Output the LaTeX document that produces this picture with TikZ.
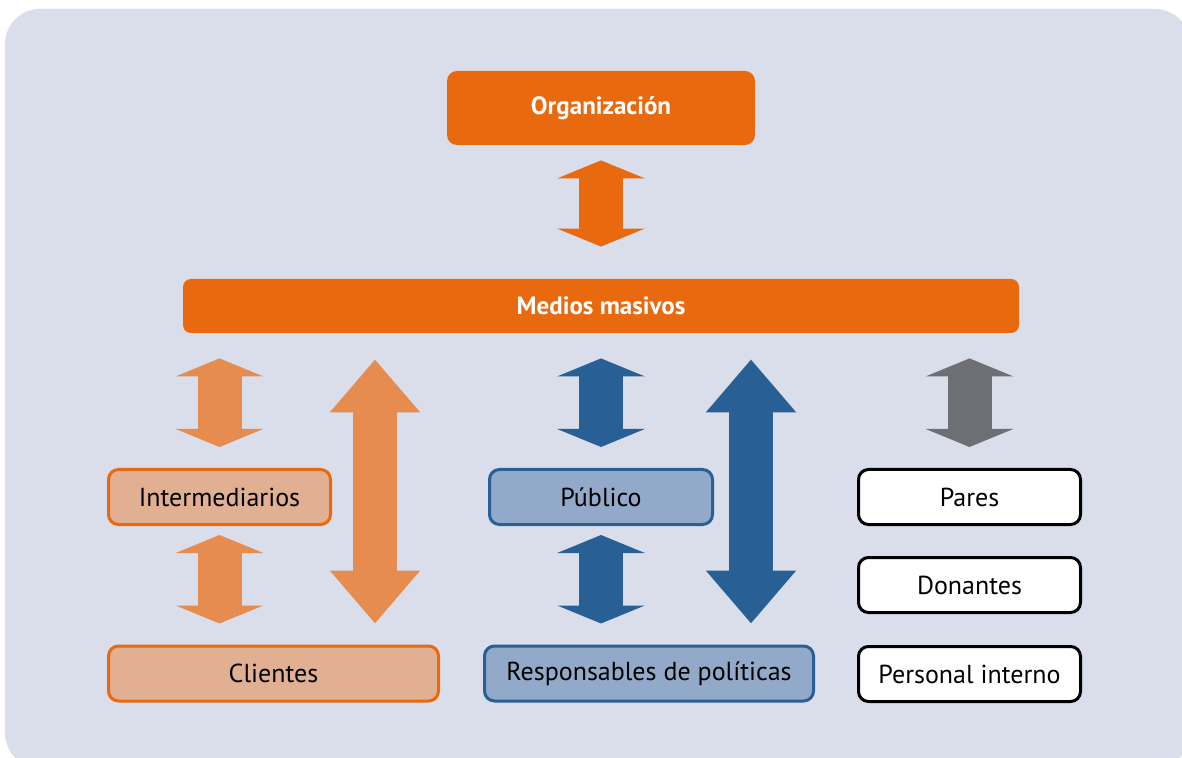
\documentclass[tikz,border=0pt]{standalone}
\usepackage{fontspec}
\setmainfont{PT Sans}
\usetikzlibrary{arrows.meta}
\definecolor{orgorange}{HTML}{E9690E}
\definecolor{lightorange}{HTML}{E68C4F}
\definecolor{paleorange}{HTML}{E1AF92}
\definecolor{darkblue}{HTML}{286096}
\definecolor{paleblue}{HTML}{93A9C9}
\definecolor{arrowgrey}{HTML}{6E6F75}
\definecolor{bggrey}{HTML}{D9DEEA}

\begin{document}
\begin{tikzpicture}[x=0.5pt,y=-0.5pt,
    twoway/.style={line width=22pt,{Triangle[length=9pt,width=43.5pt]}-{Triangle[length=9pt,width=43.5pt]}},
    longway/.style={line width=22pt,{Triangle[length=26.5pt,width=43.5pt]}-{Triangle[length=26.5pt,width=43.5pt]}}]
    \useasboundingbox (0,0) rectangle (1182,758);
    \fill[bggrey,rounded corners=17.5pt] (5,9) rectangle (1190,768);

    \begin{scope}[every node/.style={rounded corners=5pt,fill=orgorange,text=white,font=\bfseries\fontsize{12.5}{15}\selectfont}]
      \node[minimum width=154pt,minimum height=37pt] (org) at (601,108) {Organización};
      \node[minimum width=418pt,minimum height=27pt,rounded corners=4pt] (medios) at (601,306) {Medios masivos};
    \end{scope}

    \begin{scope}[every node/.style={rounded corners=5pt,line width=1.5pt,minimum height=27.5pt,font=\fontsize{13}{15}\selectfont}]
      \node[draw=orgorange,fill=paleorange,minimum width=111pt] (inter) at (219.5,497) {Intermediarios};
      \node[draw=orgorange,fill=paleorange,minimum width=165pt] (clientes) at (273.5,673.5) {Clientes};
      \node[draw=darkblue,fill=paleblue,minimum width=111.5pt] (publico) at (601,497) {Público};
      \node[draw=darkblue,fill=paleblue,minimum width=164.5pt] (resp) at (649,673.5) {Responsables de políticas};
      \node[draw=black,fill=white,minimum width=111pt] (pares) at (969.5,497) {Pares};
      \node[draw=black,fill=white,minimum width=111pt] (donantes) at (969.5,585) {Donantes};
      \node[draw=black,fill=white,minimum width=111pt] (personal) at (969.5,674) {Personal interno};
    \end{scope}

    \coordinate (cL) at (375,0);
    \coordinate (cR) at (751,0);

    \begin{scope}[shorten >=10.5pt]
      \draw[twoway,orgorange,shorten <=7.5pt,shorten >=16pt] (org) -- (medios);
      \draw[twoway,lightorange,shorten <=12.5pt] (medios.south -| inter.north) -- (inter.north);
      \draw[twoway,lightorange,shorten <=4.5pt] (inter.south) -- (clientes.north -| inter.south);
      \draw[longway,lightorange,shorten <=13pt] (medios.south -| cL) -- (clientes.north -| cL);
      \draw[twoway,darkblue,shorten <=12.5pt] (medios.south -| publico.north) -- (publico.north);
      \draw[twoway,darkblue,shorten <=4.5pt] (publico.south) -- (resp.north -| publico.south);
      \draw[longway,darkblue,shorten <=13pt] (medios.south -| cR) -- (resp.north -| cR);
      \draw[twoway,arrowgrey,shorten <=12.5pt] (medios.south -| pares.north) -- (pares.north);
    \end{scope}
\end{tikzpicture}
\end{document}
